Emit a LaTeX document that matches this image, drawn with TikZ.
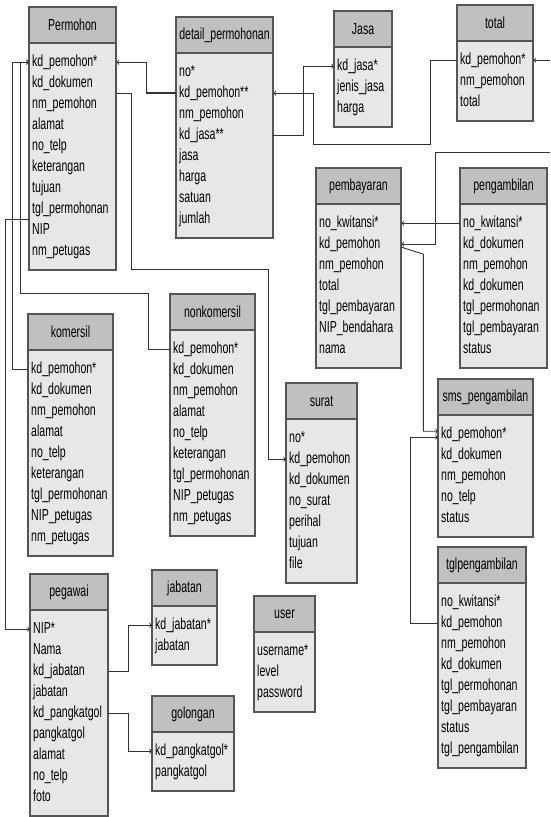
\documentclass[tikz,border=0pt]{standalone}
\usepackage{fontspec}
\setmainfont{Liberation Sans}[FakeStretch=0.66]
\usetikzlibrary{calc}

\definecolor{abu}{RGB}{192,192,192}
\definecolor{abumuda}{RGB}{231,231,231}
\definecolor{garis}{RGB}{85,85,85}

\tikzset{
  judul/.style={draw=garis, fill=abu, line width=1.2pt, minimum height=36pt,
    inner sep=0pt, outer sep=0pt, anchor=north west, font=\fontsize{16}{19}\selectfont},
  isi/.style={draw=garis, fill=abumuda, line width=1.2pt},
  baris/.style={inner xsep=3pt, inner ysep=0pt, minimum height=21pt, anchor=north west,
    text height=11.5pt, text depth=3pt, align=left, font=\fontsize{16}{19}\selectfont},
  relasi/.style={draw=black!80, line width=0.9pt},
}

% tabel: nama, kiri-atas, lebar, judul, kolom
\newcommand{\tabel}[5]{%
  \foreach \k [count=\n] in {#5} {\xdef\jml{\n}}%
  \pgfmathsetmacro{\lebarteks}{#3-6}%
  \path[isi] (#2) ++(0,-36) rectangle ++(#3,{-17-21*\jml});
  \node[judul, minimum width=#3pt] (#1) at (#2) {#4};
  \foreach \k [count=\n] in {#5}
    \node[baris, text width=\lebarteks pt] (#1-\n) at ($(#1.south west)+(0,{12.5-21*\n})$) {\k};
}

\begin{document}
\begin{tikzpicture}[x=1pt,y=1pt,>=to]
  % \draw[help lines] (0,0) grid (550,-817);
  \fill[white] (0,0) rectangle (550,-817);
  \useasboundingbox (0,0) rectangle (550,-817);

  \tabel{permohon}{29,-7}{87}{Permohon}{kd\_pemohon*,kd\_dokumen,nm\_pemohon,alamat,no\_telp,keterangan,tujuan,tgl\_permohonan,NIP,nm\_petugas}
  \tabel{detail}{176,-17}{97}{detail\_permohonan}{no*,kd\_pemohon**,nm\_pemohon,kd\_jasa**,jasa,harga,satuan,jumlah}
  \tabel{jasa}{334,-11}{58}{Jasa}{kd\_jasa*,jenis\_jasa,harga}
  \tabel{total}{457,-5}{76}{total}{kd\_pemohon*,nm\_pemohon,total}
  \tabel{pembayaran}{316,-168}{85}{pembayaran}{no\_kwitansi*,kd\_pemohon,nm\_pemohon,total,tgl\_pembayaran,NIP\_bendahara,nama}
  \tabel{pengambilan}{460,-168}{87}{pengambilan}{no\_kwitansi*,kd\_dokumen,nm\_pemohon,kd\_dokumen,tgl\_permohonan,tgl\_pembayaran,status}
  \tabel{nonkomersil}{170,-294}{85}{nonkomersil}{kd\_pemohon*,kd\_dokumen,nm\_pemohon,alamat,no\_telp,keterangan,tgl\_permohonan,NIP\_petugas,nm\_petugas}
  \tabel{komersil}{28,-314}{85}{komersil}{kd\_pemohon*,kd\_dokumen,nm\_pemohon,alamat,no\_telp,keterangan,tgl\_permohonan,NIP\_petugas,nm\_petugas}
  \tabel{surat}{286,-383}{71}{surat}{no*,kd\_pemohon,kd\_dokumen,no\_surat,perihal,tujuan,file}
  \tabel{sms}{438,-379}{95}{sms\_pengambilan}{kd\_pemohon*,kd\_dokumen,nm\_pemohon,no\_telp,status}
  \tabel{tglambil}{438,-547}{88}{tglpengambilan}{no\_kwitansi*,kd\_pemohon,nm\_pemohon,kd\_dokumen,tgl\_permohonan,tgl\_pembayaran,status,tgl\_pengambilan}
  \tabel{user}{254,-596}{61}{user}{username*,level,password}
  \tabel{pegawai}{30,-574}{78}{pegawai}{NIP*,Nama,kd\_jabatan,jabatan,kd\_pangkatgol,pangkatgol,alamat,no\_telp,foto}
  \tabel{jabatan}{152,-570}{65}{jabatan}{kd\_jabatan*,jabatan}
  \tabel{golongan}{152,-696}{82}{golongan}{kd\_pangkatgol*,pangkatgol}

  \coordinate (luar1) at ([xshift=17pt]total-1.east);
  \coordinate (luar2) at (550,-152);

  \draw[relasi,->] (komersil-1.west) -- ++(-16,0) |- (permohon-1.west);
  \draw[relasi,->] (nonkomersil-1.west) -- ++(-22,0) -- ++(0,56) -| ([xshift=-9pt]permohon-1.west) -- (permohon-1.west);
  \draw[relasi,->] (permohon-9.north west) -- ++(-24,0) |- (pegawai-1.west);
  \draw[relasi,->] (permohon-3.north east) -- ++(15,0) -- ++(0,-175.5) -| ([xshift=-18pt]surat-2.west) -- (surat-2.west);
  \draw[relasi,->] (detail-2.west) -- ++(-30,0) |- (permohon-1.east);
  \draw[relasi,line width=2pt] (detail-2.west) -- ++(-30,0);
  \draw[relasi,->] (total-1.west) -- ++(-27,0) -- ++(0,-84) -| ([xshift=40pt]detail-2.east) -- (detail-2.east);
  \draw[relasi,->] (detail-4.east) -- ++(30,0) |- (jasa-1.west);
  \draw[relasi,->] (luar1) -- (total-1.east);
  \draw[relasi,->] (luar2) -- ++(-115,0) |- (pembayaran-2.east);
  \draw[relasi,->] (pengambilan-1.west) -- (pembayaran-1.east);
  \draw[relasi,->] ([yshift=-3pt]pembayaran-2.east) -- ++(22,-7) |- ([yshift=3pt]sms-1.west);
  \draw[relasi,->] (tglambil-2.west) -- ++(-28,0) |- ([yshift=-3pt]sms-1.west);
  \draw[relasi,->] (pegawai-3.east) -- ++(20,0) |- (jabatan-1.west);
  \draw[relasi,->] (pegawai-5.east) -- ++(20,0) |- (golongan-1.west);
\end{tikzpicture}
\end{document}
